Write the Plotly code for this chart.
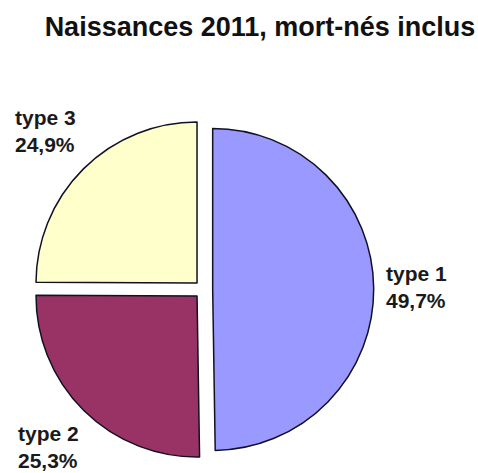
import plotly.graph_objects as go

# Data
categories = ["type 1", "type 2", "type 3"]
shares = [49.7, 25.3, 24.9]
colors = ["#9999FF", "#993366", "#FFFFCC"]
title_text = "Naissances 2011, mort-nés inclus"

W, H = 478, 473
FONT = "Liberation Sans, Arial, sans-serif"

fig = go.Figure(
    go.Pie(
        labels=categories,
        values=shares,
        sort=False,
        direction="clockwise",
        rotation=0,
        pull=[0.057, 0.057, 0.057],
        marker=dict(colors=colors, line=dict(color="#111122", width=1.5)),
        textinfo="none",
        hoverinfo="skip",
        domain=dict(x=[33.3 / W, 373.7 / W], y=[13.3 / H, 353.7 / H]),
        showlegend=False,
    )
)

# label placement (left edge x, vertical centre y, in pixels from top-left)
label_pos = [(384, 287), (16, 447), (13, 131)]
annotations = []
for lab, val, (px, py) in zip(categories, shares, label_pos):
    annotations.append(
        dict(
            text="<b>" + lab + "<br>" + f"{val:.1f}".replace(".", ",") + "%</b>",
            x=px / W,
            y=1 - py / H,
            xref="paper",
            yref="paper",
            xanchor="left",
            yanchor="middle",
            align="left",
            showarrow=False,
            font=dict(family=FONT, size=21, color="#1a1a1a"),
        )
    )

fig.update_layout(
    width=W,
    height=H,
    margin=dict(l=0, r=0, t=0, b=0),
    paper_bgcolor="white",
    plot_bgcolor="white",
    annotations=annotations,
    title=dict(
        text="<b>" + title_text + "</b>",
        x=260 / W,
        xanchor="center",
        y=1 - 27 / H,
        yanchor="middle",
        yref="container",
        xref="container",
        font=dict(family=FONT, size=27, color="#111111"),
    ),
)

fig.write_html(
    "out.html",
    config={"displayModeBar": False},
    post_script="document.body.style.margin='0';",
)
